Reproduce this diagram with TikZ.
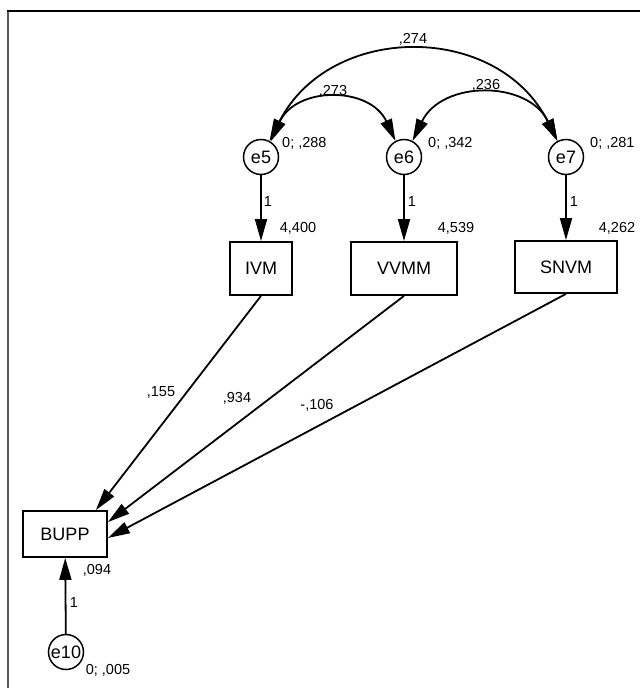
\documentclass[tikz,border=0pt]{standalone}
\usepackage{fontspec}
\setmainfont{Liberation Sans}
\usetikzlibrary{arrows.meta}
\begin{document}
\begin{tikzpicture}[x=1pt,y=-1pt,
  lbl/.style={font=\fontsize{14.5}{16}\selectfont, inner sep=0pt},
  obsbox/.style={draw, line width=1.8pt, inner sep=0pt, font=\fontsize{18}{20}\selectfont},
  errc/.style={draw, circle, line width=1.5pt, minimum size=35pt, inner sep=0pt, font=\fontsize{18}{20}\selectfont},
  tip/.tip={Triangle[length=22pt,width=12pt]},
  reg/.style={line width=1.8pt, -tip},
  cov/.style={line width=1.8pt, tip-tip},
]
\useasboundingbox (0,0) rectangle (640,688);
% frame
\draw[gray!70!black, line width=1.6pt] (8,11) -- (8,688);
\draw[line width=2pt] (7.2,11) -- (640,11);

% error circles
\node[errc] (e5) at (261,157) {e5};
\node[errc] (e6) at (404,157) {e6};
\node[errc] (e7) at (566,157) {e7};
\node[errc] (e10) at (66,652) {e10};

% observed boxes
\node[obsbox, minimum width=62pt, minimum height=53pt] (IVM) at (261,268.5) {IVM};
\node[obsbox, minimum width=106pt, minimum height=53pt] (VVMM) at (404,268.5) {VVMM};
\node[obsbox, minimum width=102pt, minimum height=52pt] (SNVM) at (566,267) {SNVM};
\node[obsbox, minimum width=84pt, minimum height=46pt] (BUPP) at (65,534) {BUPP};

% error -> observed
\draw[reg] (e5) -- (IVM);
\draw[reg] (e6) -- (VVMM);
\draw[reg] (e7) -- (SNVM);
\draw[reg] (e10) -- (BUPP);

% covariances
\draw[cov] (e5.62) .. controls (330,22) and (498,22) .. (e7.118);
\draw[cov] (e5.58) .. controls (296,86) and (370,86) .. (e6.118);
\draw[cov] (e6.62) .. controls (442,80) and (528,80) .. (e7.118);

% regressions
\draw[reg] (IVM.south) -- ([xshift=-12pt]BUPP.north east);
\draw[reg] (VVMM.south) -- ([yshift=-12pt]BUPP.north east);
\draw[reg] (SNVM.south) -- ([yshift=-4pt]BUPP.east);

% labels
\node[lbl] (l274) at (413,39) {,274};
\node[lbl] (l273) at (333,91) {,273};
\node[lbl] (l236) at (486,85) {,236};
\node[lbl, anchor=west] (v5) at (282,143) {0; ,288};
\node[lbl, anchor=west] (v6) at (428,143) {0; ,342};
\node[lbl, anchor=west] (v7) at (590,143) {0; ,281};
\node[lbl] (o5) at (268,202) {1};
\node[lbl] (o6) at (412,202) {1};
\node[lbl] (o7) at (574,202) {1};
\node[lbl] (i5) at (298,228) {4,400};
\node[lbl] (i6) at (456,228) {4,539};
\node[lbl] (i7) at (617,228) {4,262};
\node[lbl] (b1) at (161,392) {,155};
\node[lbl] (b2) at (237,398) {,934};
\node[lbl] (b3) at (317,405) {-,106};
\node[lbl] (ib) at (97,570) {,094};
\node[lbl] (o10) at (74,603) {1};
\node[lbl] (v10) at (108,670) {0; ,005};
\end{tikzpicture}
\end{document}
